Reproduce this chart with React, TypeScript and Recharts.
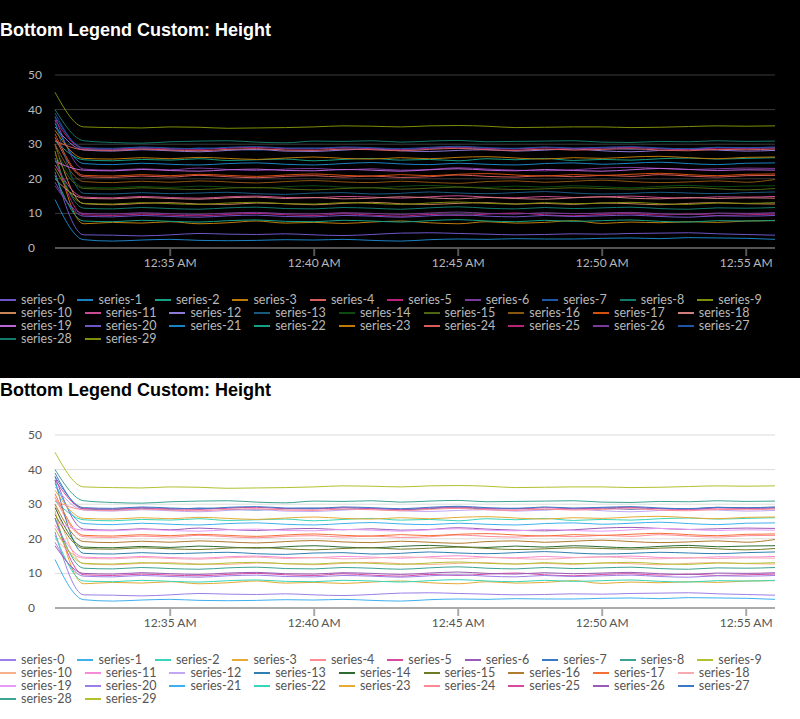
import { LineChart, Line, XAxis, YAxis, CartesianGrid } from 'recharts';

// minutes after 12:00 for every sample (one per minute)
const minutes = [
  31, 32, 33, 34, 35, 36, 37, 38, 39, 40, 41, 42, 43,
  44, 45, 46, 47, 48, 49, 50, 51, 52, 53, 54, 55, 56,
];
const xTicks = [35, 40, 45, 50, 55];
const yTicks = [0, 10, 20, 30, 40, 50];

const seriesValues: number[][] = [
  [22, 3.8, 3.7, 3.5, 3.8, 4.2, 4.0, 3.9, 4.1, 3.8, 3.6, 3.9, 4.3, 4.4, 4.2, 4.0, 3.8, 3.9, 4.1, 4.0, 4.2, 4.3, 4.4, 4.1, 3.9, 3.7],
  [14, 2.4, 2.0, 2.3, 2.5, 2.2, 2.1, 2.2, 2.4, 2.3, 2.5, 2.2, 2.0, 2.4, 2.6, 2.5, 2.7, 2.6, 2.6, 2.8, 2.9, 2.7, 3.0, 2.9, 2.8, 2.5],
  [31, 25.5, 25.2, 25.6, 25.4, 25.8, 25.3, 25.5, 25.7, 25.2, 25.6, 25.9, 25.4, 25.6, 25.2, 25.8, 25.5, 25.9, 25.3, 25.6, 25.4, 25.8, 26.0, 25.7, 25.9, 26.1],
  [28, 7.0, 7.4, 7.2, 7.6, 7.0, 7.3, 7.8, 7.2, 7.4, 7.1, 7.5, 7.8, 7.3, 7.0, 7.6, 7.2, 7.4, 7.9, 7.1, 7.5, 7.3, 7.6, 7.4, 7.8, 7.9],
  [32, 20.6, 20.4, 20.8, 20.5, 21.0, 20.6, 20.3, 20.7, 20.9, 20.5, 20.8, 20.4, 20.6, 21.1, 20.7, 20.5, 20.9, 20.6, 21.0, 20.7, 21.2, 20.8, 20.5, 20.9, 21.0],
  [26, 9.6, 9.4, 9.8, 9.5, 9.3, 9.7, 10.0, 9.6, 9.4, 9.9, 9.5, 9.2, 9.7, 9.4, 9.8, 10.1, 9.6, 9.3, 9.7, 9.9, 9.5, 9.8, 9.4, 9.6, 9.8],
  [38, 22.8, 22.5, 22.9, 22.6, 23.1, 22.7, 22.4, 22.8, 23.0, 22.6, 22.9, 22.5, 22.7, 23.2, 22.8, 22.5, 22.3, 22.6, 23.1, 23.3, 23.0, 22.7, 22.9, 23.1, 23.0],
  [39, 28.6, 28.4, 28.8, 28.5, 28.9, 28.6, 28.3, 28.7, 28.9, 28.5, 28.8, 28.4, 28.7, 29.0, 28.6, 28.8, 28.4, 28.7, 28.9, 28.5, 28.8, 28.6, 29.1, 28.8, 28.9],
  [40, 31.0, 30.5, 30.3, 30.7, 30.9, 31.0, 30.6, 30.4, 30.9, 30.8, 31.0, 30.6, 30.9, 31.1, 30.7, 30.8, 30.9, 31.0, 30.6, 30.5, 30.8, 30.7, 31.0, 30.8, 30.9],
  [45, 35.0, 34.8, 34.7, 35.0, 34.9, 34.6, 34.7, 34.8, 35.0, 35.3, 35.2, 35.0, 35.3, 35.4, 35.2, 34.8, 34.9, 35.0, 35.0, 34.8, 34.9, 35.1, 35.3, 35.2, 35.3],
  [30, 12.8, 12.5, 12.9, 13.1, 12.7, 12.6, 13.0, 12.8, 12.5, 12.9, 13.2, 12.8, 12.6, 12.9, 13.1, 12.7, 12.9, 12.6, 13.0, 12.8, 12.5, 12.9, 13.1, 12.8, 12.7],
  [24, 14.7, 14.5, 14.9, 14.6, 14.4, 14.8, 15.0, 14.6, 14.5, 14.9, 14.7, 14.4, 14.8, 15.1, 14.7, 14.5, 14.9, 14.6, 14.8, 15.0, 14.6, 14.4, 14.8, 14.7, 14.9],
  [35, 28.3, 28.0, 28.4, 28.1, 27.8, 28.2, 28.5, 28.0, 27.9, 28.3, 28.6, 28.1, 27.9, 28.2, 28.4, 28.0, 28.3, 28.6, 28.1, 27.8, 28.2, 28.5, 28.3, 28.0, 28.2],
  [37, 15.8, 15.6, 16.0, 15.7, 15.9, 16.1, 15.7, 15.5, 15.9, 16.0, 15.6, 15.8, 16.2, 15.9, 15.7, 16.0, 16.3, 15.9, 15.6, 15.8, 16.1, 15.9, 15.7, 16.0, 16.2],
  [29, 17.6, 17.4, 17.8, 17.5, 17.9, 17.6, 17.3, 17.7, 18.0, 17.6, 17.4, 17.8, 18.1, 17.7, 17.5, 17.9, 17.6, 18.0, 17.7, 17.4, 17.8, 18.1, 17.7, 17.9, 18.0],
  [27, 17.2, 17.0, 17.4, 17.1, 16.9, 17.3, 17.5, 17.1, 16.8, 17.2, 17.4, 17.0, 17.3, 17.6, 17.2, 16.9, 17.1, 17.4, 17.2, 17.0, 17.3, 17.5, 17.1, 16.8, 17.2],
  [30, 19.2, 18.9, 19.3, 19.0, 19.4, 19.1, 18.8, 19.2, 19.5, 19.1, 18.9, 19.3, 19.0, 18.7, 19.2, 19.4, 19.0, 19.3, 19.6, 19.2, 18.9, 19.1, 19.4, 19.0, 19.8],
  [33, 21.0, 20.8, 21.2, 20.9, 21.3, 21.0, 20.7, 21.1, 21.4, 21.0, 20.8, 21.2, 20.9, 21.3, 21.5, 21.1, 20.8, 21.2, 21.0, 21.3, 21.6, 21.2, 20.9, 21.3, 21.4],
  [20, 14.4, 14.2, 14.6, 14.3, 14.1, 14.5, 14.7, 14.3, 14.6, 14.2, 14.4, 14.8, 14.5, 14.2, 14.6, 14.3, 14.1, 14.5, 14.8, 14.4, 14.2, 14.6, 14.3, 14.5, 14.4],
  [25, 22.5, 22.3, 22.7, 22.4, 22.2, 22.6, 22.8, 22.4, 22.3, 22.7, 22.5, 22.2, 22.6, 22.9, 22.5, 22.3, 22.7, 22.4, 22.2, 22.6, 23.0, 22.7, 22.4, 22.6, 22.5],
  [19, 9.2, 9.0, 9.4, 9.1, 8.9, 9.3, 9.5, 9.1, 9.0, 9.4, 9.2, 8.9, 9.3, 9.6, 9.2, 9.0, 9.4, 9.1, 9.3, 9.5, 9.1, 8.9, 9.3, 9.2, 9.4],
  [36, 24.4, 24.1, 24.5, 24.2, 24.0, 24.4, 24.6, 24.2, 24.0, 24.4, 24.7, 24.3, 24.1, 24.5, 24.2, 24.0, 24.4, 24.6, 24.2, 24.5, 24.8, 24.4, 24.1, 24.5, 24.6],
  [21, 7.8, 7.6, 8.0, 7.7, 7.5, 7.9, 8.1, 7.7, 7.6, 8.0, 7.8, 7.5, 7.9, 8.2, 7.8, 7.6, 8.0, 7.7, 7.9, 8.1, 7.7, 7.5, 7.9, 7.8, 8.0],
  [34, 25.9, 25.7, 26.1, 25.8, 26.2, 25.9, 25.6, 26.0, 26.3, 25.9, 25.7, 26.1, 25.8, 26.2, 26.4, 26.0, 25.7, 26.1, 25.9, 26.3, 26.5, 26.1, 25.8, 26.2, 26.3],
  [31, 28.4, 28.2, 28.6, 28.3, 28.1, 28.5, 28.7, 28.3, 28.2, 28.6, 28.4, 28.1, 28.5, 28.8, 28.4, 28.2, 28.6, 28.3, 28.5, 28.7, 28.3, 28.1, 28.5, 28.4, 28.6],
  [37, 28.8, 28.6, 29.0, 28.7, 28.5, 28.9, 29.1, 28.7, 28.6, 29.0, 28.8, 28.5, 28.9, 29.2, 28.8, 28.6, 29.0, 28.7, 28.9, 29.1, 28.7, 28.5, 28.9, 28.8, 29.0],
  [18, 10.0, 9.8, 10.2, 9.9, 9.7, 10.1, 10.3, 9.9, 9.8, 10.2, 10.0, 9.7, 10.1, 10.4, 10.0, 9.8, 10.2, 9.9, 10.1, 10.3, 9.9, 9.7, 10.1, 10.0, 10.2],
  [38, 29.0, 28.8, 29.2, 28.9, 28.7, 29.1, 29.3, 28.9, 28.8, 29.2, 29.0, 28.7, 29.1, 29.4, 29.0, 28.8, 29.2, 28.9, 29.1, 29.3, 28.9, 28.7, 29.1, 29.0, 29.2],
  [26, 11.5, 11.3, 11.7, 11.4, 11.2, 11.6, 11.8, 11.4, 11.3, 11.7, 11.5, 11.2, 11.6, 11.9, 11.5, 11.3, 11.7, 11.4, 11.6, 11.8, 11.4, 11.2, 11.6, 11.5, 11.7],
  [23, 12.9, 12.7, 13.1, 12.8, 12.6, 13.0, 13.2, 12.8, 12.7, 13.1, 12.9, 12.6, 13.0, 13.3, 12.9, 12.7, 13.1, 12.8, 13.0, 13.2, 12.8, 12.6, 13.0, 12.9, 13.1],
];

const DARK_COLORS = [
  '#6e56c8', '#1a82c4', '#14a085', '#bd7a08', '#d85c5c', '#b8237a', '#7a3a9c', '#1e55a8', '#127a6c', '#7f8f0a',
  '#c8845a', '#c94c92', '#8e78d8', '#1a5880', '#0d4a12', '#4e6410', '#8a5510', '#d4500f', '#cf7d7d', '#bb66d8',
];
const LIGHT_COLORS = [
  '#9b7fe6', '#3fb0ef', '#38d6b8', '#e5ab36', '#ff8a94', '#d84aa0', '#9b5ab8', '#3a78c8', '#3aa394', '#b1c130',
  '#f6b08a', '#f58ad6', '#c0a8f5', '#2f7fb0', '#2e6a32', '#6f7a26', '#b07c30', '#f57038', '#f8aab0', '#e69af5',
];

const seriesNames = seriesValues.map((_, i) => `series-${i}`);
const rows = minutes.map((m, i) => {
  const row: Record<string, number> = { t: m };
  seriesValues.forEach((s, k) => {
    if (s[i] !== undefined) row[seriesNames[k]] = s[i];
  });
  return row;
});

const colorIndex = (k: number) => (k === 29 ? 9 : k % 20);

function Panel({ dark }: { dark: boolean }) {
  const colors = dark ? DARK_COLORS : LIGHT_COLORS;
  const text = dark ? '#b8b8b8' : '#555';
  return (
    <div
      style={{
        position: 'relative',
        width: 800,
        height: dark ? 360 : 341,
        paddingTop: dark ? 18 : 0,
        background: dark ? '#000' : '#fff',
        fontFamily: 'Lato, "Noto Sans", sans-serif',
      }}
    >
      <div
        style={{
          fontFamily: '"Liberation Sans", Arial, sans-serif',
          fontWeight: 'bold',
          fontSize: 18,
          color: dark ? '#fff' : '#000',
          height: 24,
          lineHeight: '24px',
        }}
      >
        Bottom Legend Custom: Height
      </div>
      <LineChart width={800} height={236} data={rows} margin={{ top: 33, right: 25, bottom: 0, left: 0 }}>
        <CartesianGrid vertical={false} stroke={dark ? '#3a3a3a' : '#dcdcdc'} />
        <XAxis
          dataKey="t"
          type="number"
          domain={['dataMin', 'dataMax']}
          ticks={xTicks}
          tickFormatter={(v: number) => `12:${v} AM`}
          stroke={dark ? '#555' : '#aaa'}
          strokeWidth={2}
          tickSize={8}
          height={30}
          tick={{ fill: text, fontSize: 12 }}
        />
        <YAxis
          domain={[0, 50]}
          ticks={yTicks}
          axisLine={false}
          tickLine={false}
          width={55}
          tick={({ y, payload }: any) => (
            <text x={28} y={y} dy={4} fill={text} fontSize={12} textAnchor="start">
              {payload.value}
            </text>
          )}
        />
        {seriesNames.map((n, k) => (
          <Line
            key={n}
            dataKey={n}
            type="monotone"
            stroke={colors[colorIndex(k)]}
            strokeWidth={1}
            dot={false}
            isAnimationActive={false}
          />
        ))}
      </LineChart>
      <div style={{ display: 'flex', flexWrap: 'wrap', width: 790, marginTop: 15 }}>
        {seriesNames.map((n, k) => (
          <div
            key={n}
            style={{ display: 'flex', alignItems: 'center', marginRight: 13, height: 13, fontSize: 12.5, color: text }}
          >
            <span
              style={{
                display: 'inline-block',
                width: 16,
                height: 2,
                background: colors[colorIndex(k)],
                marginRight: 5,
              }}
            />
            {n}
          </div>
        ))}
      </div>
    </div>
  );
}

export default function App() {
  return (
    <div style={{ width: 800 }}>
      <style>{'body{margin:0}'}</style>
      <Panel dark />
      <Panel dark={false} />
    </div>
  );
}
